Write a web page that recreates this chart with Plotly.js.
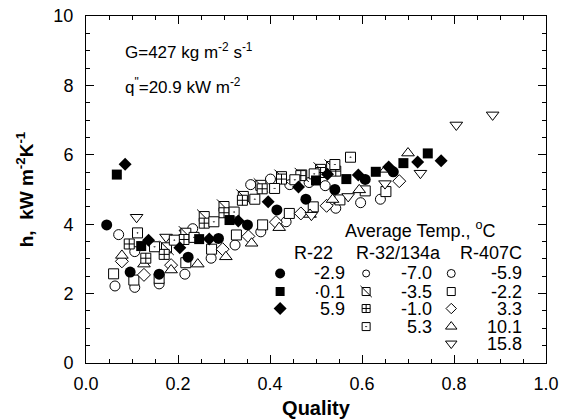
<!DOCTYPE html>
<html>
<head>
<meta charset="utf-8">
<script src="https://cdn.plot.ly/plotly-3.0.1.min.js"></script>
<style>html,body{margin:0;padding:0;background:#fff;}#chart{width:565px;height:420px;}</style>
</head>
<body>
<div id="chart"></div>
<script>
// ---------------- data ----------------
// R-22
const r22_m29_x = [0.045, 0.096, 0.159, 0.222, 0.288, 0.351, 0.415, 0.478, 0.541, 0.607, 0.668];
const r22_m29_y = [3.98, 2.62, 2.56, 3.05, 3.59, 3.98, 4.41, 4.72, 5.00, 5.29, 5.51];
const r22_01_x  = [0.067, 0.120, 0.246, 0.312, 0.500, 0.566, 0.630, 0.690, 0.743];
const r22_01_y  = [5.43, 3.37, 3.57, 4.12, 5.26, 5.30, 5.51, 5.76, 6.04];
const r22_59_x  = [0.085, 0.136, 0.204, 0.268, 0.331, 0.396, 0.462, 0.525, 0.592, 0.658, 0.721, 0.772];
const r22_59_y  = [5.73, 3.54, 3.32, 3.57, 4.09, 4.65, 5.07, 5.44, 5.42, 5.65, 5.79, 5.83];
// R-32/134a
const r32_m70_x = [0.071, 0.106, 0.232, 0.358, 0.401, 0.443, 0.485, 0.520];
const r32_m70_y = [3.70, 3.21, 3.87, 5.14, 5.30, 5.14, 5.20, 5.11];
const r32_m35_x = [0.175, 0.217, 0.257, 0.300, 0.342, 0.380, 0.425, 0.469, 0.510, 0.534];
const r32_m35_y = [3.32, 3.74, 4.22, 4.51, 4.80, 5.12, 5.37, 5.42, 5.58, 5.66];
const r32_m10_x = [0.094, 0.130, 0.170, 0.213, 0.257, 0.300, 0.340, 0.383, 0.425, 0.467, 0.510, 0.543];
const r32_m10_y = [3.43, 3.02, 3.13, 3.56, 4.03, 4.33, 4.69, 5.02, 5.30, 5.40, 5.49, 5.53];
const r32_53_x  = [0.112, 0.149, 0.192, 0.235, 0.278, 0.322, 0.367, 0.410, 0.454, 0.496, 0.541, 0.575];
const r32_53_y  = [3.75, 3.35, 3.54, 3.62, 4.07, 4.35, 4.72, 5.03, 5.28, 5.45, 5.72, 5.93];
// R-407C
const r407_m59_x = [0.063, 0.106, 0.159, 0.215, 0.272, 0.324, 0.380, 0.435, 0.543, 0.597, 0.640];
const r407_m59_y = [2.22, 2.18, 2.28, 2.56, 3.02, 3.40, 3.78, 4.07, 4.46, 4.62, 4.72];
const r407_m22_x = [0.060, 0.104, 0.159, 0.217, 0.273, 0.327, 0.384, 0.442, 0.494, 0.552, 0.607, 0.652];
const r407_m22_y = [2.57, 2.39, 2.44, 2.89, 3.28, 3.69, 3.98, 4.31, 4.50, 4.70, 4.96, 4.94];
const r407_33_x  = [0.078, 0.126, 0.185, 0.297, 0.353, 0.413, 0.467, 0.523, 0.681];
const r407_33_y  = [2.93, 2.54, 2.82, 3.28, 3.65, 4.06, 4.31, 4.53, 5.24];
const r407_101_x = [0.078, 0.126, 0.185, 0.243, 0.304, 0.360, 0.420, 0.487, 0.536, 0.594, 0.652, 0.700];
const r407_101_y = [3.10, 2.85, 2.68, 2.85, 3.06, 3.45, 3.90, 4.28, 4.71, 4.99, 5.58, 6.05];
const r407_158_x = [0.110, 0.174, 0.216, 0.490, 0.570, 0.650, 0.727, 0.805, 0.884];
const r407_158_y = [4.20, 3.63, 3.75, 4.26, 4.80, 5.17, 5.47, 6.86, 7.15];

// legend labels
const refrigerants = ['R-22', 'R-32/134a', 'R-407C'];
const r22_temps  = ['-2.9', '\u00b70.1', '5.9'];
const r32_temps  = ['-7.0', '-3.5', '-1.0', '5.3'];
const r407_temps = ['-5.9', '-2.2', '3.3', '10.1', '15.8'];
const xTicks = [0, 0.2, 0.4, 0.6, 0.8, 1.0];
const yTicks = [0, 2, 4, 6, 8, 10];

// ---------------- styles ----------------
const FONT = 'Liberation Sans, Arial, Helvetica, sans-serif';
const filled = (sym, size) => ({symbol: sym, size: size, color: '#000', line: {color: '#000', width: 0}});
const hollow = (sym, size) => ({symbol: sym, size: size, color: '#fff', line: {color: '#000', width: 1}});

const series = [
  {x: r407_m59_x, y: r407_m59_y, m: hollow('circle', 10),        lm: hollow('circle', 8),        col: 2, row: 0},
  {x: r407_m22_x, y: r407_m22_y, m: hollow('square', 10),        lm: hollow('square', 8),        col: 2, row: 1},
  {x: r407_33_x,  y: r407_33_y,  m: hollow('diamond', 10),       lm: hollow('diamond', 8),       col: 2, row: 2},
  {x: r407_101_x, y: r407_101_y, m: hollow('triangle-up', 11),   lm: hollow('triangle-up', 10),  col: 2, row: 3},
  {x: r407_158_x, y: r407_158_y, m: hollow('triangle-down', 11), lm: hollow('triangle-down', 10),col: 2, row: 4},
  {x: r32_m70_x,  y: r32_m70_y,  m: hollow('circle', 10),        lm: hollow('circle', 7),        col: 1, row: 0},
  {x: r32_m35_x,  y: r32_m35_y,  m: hollow('square', 10),        lm: hollow('square', 8),        col: 1, row: 1, slash: true},
  {x: r32_m10_x,  y: r32_m10_y,  m: hollow('square-cross', 10),  lm: hollow('square-cross', 8),  col: 1, row: 2},
  {x: r32_53_x,   y: r32_53_y,   m: hollow('square-dot', 10),    lm: hollow('square-dot', 8),    col: 1, row: 3},
  {x: r22_m29_x,  y: r22_m29_y,  m: filled('circle', 11),        lm: filled('circle', 10),       col: 0, row: 0},
  {x: r22_01_x,   y: r22_01_y,   m: filled('square', 10),        lm: filled('square', 9),        col: 0, row: 1},
  {x: r22_59_x,   y: r22_59_y,   m: filled('diamond', 10),       lm: filled('diamond', 10),      col: 0, row: 2}
];

// legend geometry (in axis units)
const legSymX  = [0.422, 0.609, 0.794];
const legTextX = [0.565, 0.754, 0.949];
const legRowY  = [2.58, 2.06, 1.57, 1.05, 0.56];
const legHeadX = [0.494, 0.680, 0.880];
const legHeadY = 3.18;

const traces = [];
series.forEach(s => {
  traces.push({type: 'scatter', mode: 'markers', x: s.x, y: s.y, marker: s.m, hoverinfo: 'x+y', showlegend: false, cliponaxis: false});
  if (s.slash) {
    traces.push({type: 'scatter', mode: 'markers', x: s.x, y: s.y,
      marker: {symbol: 'line-nw', size: s.m.size * 1.414, line: {color: '#000', width: 1}}, hoverinfo: 'skip', showlegend: false});
  }
  traces.push({type: 'scatter', mode: 'markers', x: [legSymX[s.col]], y: [legRowY[s.row]], marker: s.lm, hoverinfo: 'skip', showlegend: false});
  if (s.slash) {
    traces.push({type: 'scatter', mode: 'markers', x: [legSymX[s.col]], y: [legRowY[s.row]],
      marker: {symbol: 'line-nw', size: s.lm.size * 1.414, line: {color: '#000', width: 1}}, hoverinfo: 'skip', showlegend: false});
  }
});

const annotations = [];
const txt = (x, y, text, xanchor, size) => ({x: x, y: y, xref: 'x', yref: 'y', text: text, showarrow: false,
  xanchor: xanchor, yanchor: 'middle', borderpad: 0, font: {family: FONT, size: size || 18, color: '#000'}});

annotations.push(txt(0.725, 3.86, 'Average Temp., <sup>o</sup>C', 'center'));
refrigerants.forEach((r, i) => annotations.push(txt(legHeadX[i], legHeadY, r, 'center')));
[r22_temps, r32_temps, r407_temps].forEach((col, c) => col.forEach((t, r) => annotations.push(txt(legTextX[c], legRowY[r], t, 'right'))));
annotations.push(txt(0.082, 8.98, 'G=427 kg m<sup>-2</sup> s<sup>-1</sup>', 'left', 17));
annotations.push(txt(0.082, 7.98, 'q<sup>"</sup>=20.9 kW m<sup>-2</sup>', 'left', 17));

const axisCommon = {
  showline: true, linecolor: '#000', linewidth: 1, mirror: 'allticks',
  ticks: 'inside', tickcolor: '#000', tickwidth: 1, ticklen: 8,
  showgrid: false, zeroline: false,
  tickfont: {family: FONT, size: 18, color: '#000'}
};

const layout = {
  width: 565, height: 420,
  margin: {l: 86, r: 19, t: 16, b: 57},
  paper_bgcolor: '#fff', plot_bgcolor: '#fff',
  showlegend: false,
  font: {family: FONT, color: '#000'},
  xaxis: Object.assign({}, axisCommon, {
    range: [0, 1], tickvals: xTicks, tickformat: '.1f', ticklabelstandoff: 4,
    minor: {dtick: 0.05, tick0: 0, ticks: 'inside', ticklen: 4, tickcolor: '#000', tickwidth: 1},
    title: {text: '<b>Quality</b>', font: {family: FONT, size: 20, color: '#000'}, standoff: 8}
  }),
  yaxis: Object.assign({}, axisCommon, {
    range: [0, 10], tickvals: yTicks, ticklabelstandoff: 8,
    minor: {dtick: 0.5, tick0: 0, ticks: 'inside', ticklen: 4, tickcolor: '#000', tickwidth: 1},
    title: {text: '<b>h,\u00a0 kW m<sup>-2</sup>K<sup>-1</sup></b>', font: {family: FONT, size: 19, color: '#000'}, standoff: 14}
  }),
  annotations: annotations
};

Plotly.newPlot('chart', traces, layout, {staticPlot: true, displayModeBar: false});
</script>
</body>
</html>
